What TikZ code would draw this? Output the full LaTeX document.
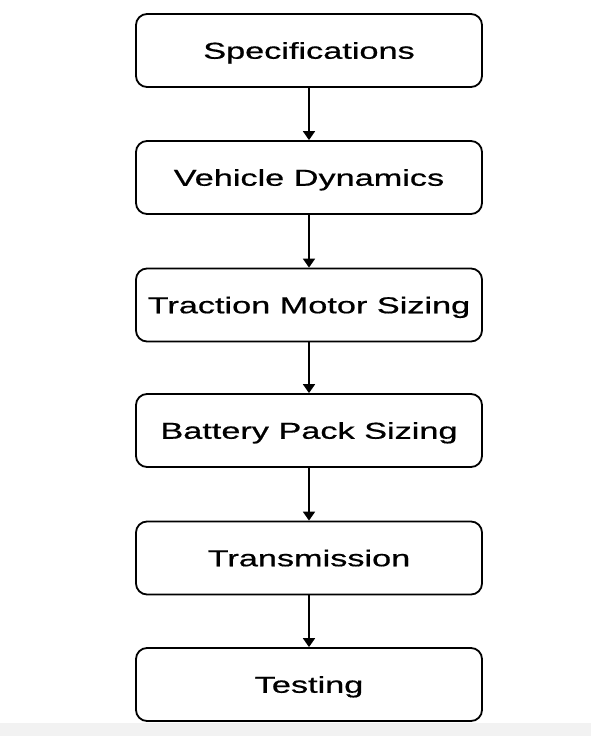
\documentclass[tikz,border=0pt]{standalone}
\usepackage{fontspec}
\setmainfont{Liberation Sans}
\newfontfamily\boxfont[FakeBold=0.6]{Liberation Sans}
\usetikzlibrary{arrows.meta}
\begin{document}
\begin{tikzpicture}[x=1pt,y=-1pt,
  stepbox/.style={draw=black,line width=1.8pt,rounded corners=11pt,fill=white,
    minimum width=346pt,minimum height=73pt,inner sep=0pt,
    text height=16.5pt,text depth=0pt,
    font=\boxfont\fontsize{23}{27}\selectfont},
  flow/.style={line width=1.8pt,-{Triangle[length=9pt,width=12pt]}}]
\fill[white] (0,0) rectangle (591,736);
\fill[black!5] (0,723) rectangle (591,736);
\useasboundingbox (0,0) rectangle (591,736);
\newcommand{\wtxt}[1]{\scalebox{1.49}[1]{#1}}
\node[stepbox] (a) at (309,50.5) {\wtxt{Specifications}};
\node[stepbox] (b) at (309,177.5) {\wtxt{Vehicle Dynamics}};
\node[stepbox] (c) at (309,305) {\wtxt{Traction Motor Sizing}};
\node[stepbox] (d) at (309,430.5) {\wtxt{Battery Pack Sizing}};
\node[stepbox] (e) at (309,558) {\wtxt{Transmission}};
\node[stepbox] (f) at (309,684.5) {\wtxt{Testing}};
\draw[flow] (a) -- (b);
\draw[flow] (b) -- (c);
\draw[flow] (c) -- (d);
\draw[flow] (d) -- (e);
\draw[flow] (e) -- (f);
\end{tikzpicture}
\end{document}
